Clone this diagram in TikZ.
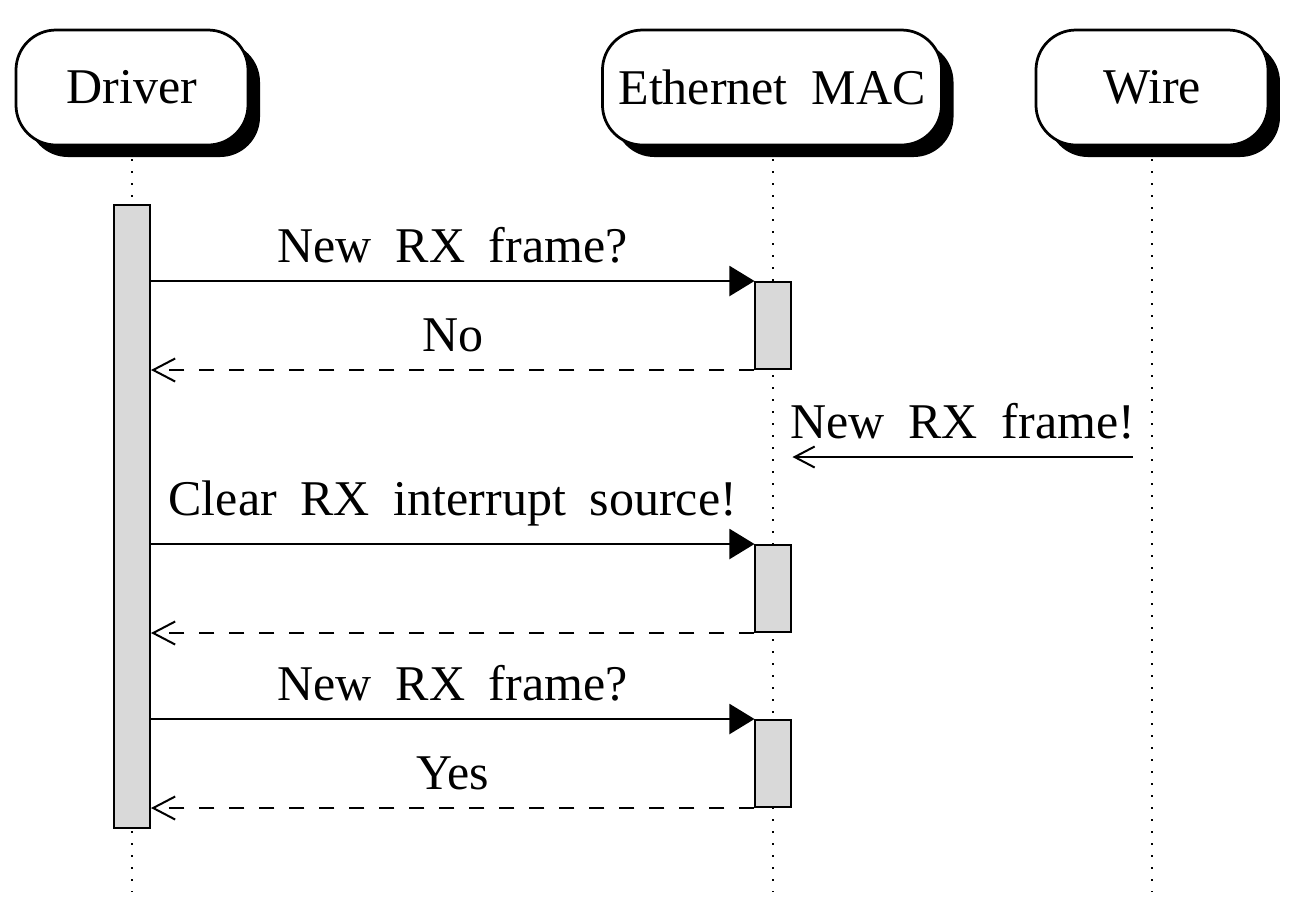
\documentclass[tikz,border=0pt]{standalone}
\usepackage{fontspec}
\setmainfont{Liberation Serif}[WordSpace=1.9]
\usetikzlibrary{arrows.meta,shadows}
\begin{document}
\begin{tikzpicture}[x=0.2pt,y=-0.2pt,
  thread/.style={draw,fill=white,rounded corners=8pt,line width=0.55pt,
    minimum height=23pt,minimum width=46.4pt,inner xsep=3.2pt,
    font=\fontsize{10pt}{12pt}\selectfont,
    drop shadow={shadow xshift=2.4pt,shadow yshift=-2.4pt,fill=black,opacity=1}},
  life/.style={dotted,line width=0.4pt},
  actbox/.style={draw,fill=gray!30,line width=0.4pt,minimum width=7.2pt,inner sep=0pt},
  call/.style={line width=0.4pt,-{Triangle[length=5pt,width=6pt]}},
  reply/.style={line width=0.4pt,dashed,-{Straight Barb[length=4.4pt,width=4.6pt]}},
  msg/.style={line width=0.4pt,-{Straight Barb[length=4pt,width=4.2pt]}},
  lbl/.style={above,font=\fontsize{10pt}{12pt}\selectfont}]
\useasboundingbox (0,0) rectangle (1298,910);
% threads
\node[thread] (drv) at (132,87.5) {Driver};
\node[thread] (mac) at (772,87.5) {Ethernet MAC};
\node[thread] (wire) at (1152,87.5) {Wire};
% lifeline ends
\coordinate (drvend) at (132,892);
\coordinate (macend) at (773,892);
\coordinate (wireend) at (1152,892);
\draw[life] ([yshift=-2.6pt]drv.south) -- (drvend);
\draw[life] ([yshift=-2.6pt]mac.south -| macend) -- (macend);
\draw[life] ([yshift=-2.6pt]wire.south) -- (wireend);
% activations
\node[actbox,minimum height=124.6pt] (adrv) at (132,516.5) {};
\node[actbox,minimum height=17.4pt] (a1) at (773.5,325.5) {};
\node[actbox,minimum height=17.4pt] (a2) at (773.5,588.5) {};
\node[actbox,minimum height=17.4pt] (a3) at (773.5,763.5) {};
% message endpoints
\coordinate (p1) at (adrv.east |- a1.north);
\coordinate (p2) at (adrv.east |- a1.south);
\coordinate (p3) at (adrv.east |- a2.north);
\coordinate (p4) at (adrv.east |- a2.south);
\coordinate (p5) at (adrv.east |- a3.north);
\coordinate (p6) at (adrv.east |- a3.south);
\coordinate (wsrc) at (1133,457);
\coordinate (wdst) at (a1.east |- wsrc);
% messages
\draw[call] (p1) -- node[lbl] {New RX frame?} (a1.north west);
\draw[reply] (a1.south west) -- node[lbl] {No} (p2);
\draw[msg] (wsrc) -- node[lbl] {New RX frame!} (wdst);
\draw[call] (p3) -- node[lbl] {Clear RX interrupt source!} (a2.north west);
\draw[reply] (a2.south west) -- (p4);
\draw[call] (p5) -- node[lbl] {New RX frame?} (a3.north west);
\draw[reply] (a3.south west) -- node[lbl] {Yes} (p6);
\end{tikzpicture}
\end{document}
